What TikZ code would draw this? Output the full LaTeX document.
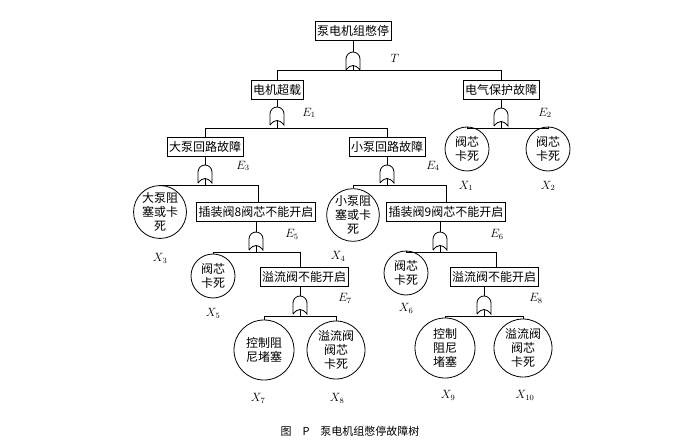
\documentclass[tikz,border=0pt]{standalone}
\usepackage{fontspec}
\newfontfamily\cjk{Noto Sans CJK SC}
\begin{document}
\begin{tikzpicture}[x=1pt,y=-1pt,line width=0.8pt,
  ev/.style={draw,fill=white,inner sep=2pt,minimum height=19pt,font=\cjk\fontsize{12}{13}\selectfont},
  bas/.style={draw,circle,align=center,inner sep=0pt,font=\cjk\fontsize{12}{14}\selectfont},
  lab/.style={font=\fontsize{12}{13}\selectfont}]
\useasboundingbox (0,0) rectangle (700,446);
\newcommand{\orgate}[3]{%
  \draw[fill=white] (#2-7,#3+18) -- (#2-7,#3+7) arc(180:360:7) -- (#2+7,#3+18) .. controls (#2+2,#3+12) and (#2-2,#3+12) .. (#2-7,#3+18);
  \coordinate (#1-in) at (#2,#3);
  \coordinate (#1-out) at (#2,#3+13);}
% events
\node[ev] (T) at (353,31) {泵电机组憋停};
\node[ev] (E1) at (277,90) {电机超载};
\node[ev] (E2) at (501,90) {电气保护故障};
\node[ev] (E3) at (205,147) {大泵回路故障};
\node[ev] (E4) at (387,147) {小泵回路故障};
\node[ev] (E5) at (256,212) {插装阀8阀芯不能开启};
\node[ev] (E6) at (446,212) {插装阀9阀芯不能开启};
\node[ev] (E7) at (304,277) {溢流阀不能开启};
\node[ev] (E8) at (494,277) {溢流阀不能开启};
% basic
\node[bas,minimum size=44pt] (X1) at (467,149) {阀芯\\卡死};
\node[bas,minimum size=44pt] (X2) at (548,149) {阀芯\\卡死};
\node[bas,minimum size=50pt] (X3) at (160,212) {大泵阻\\塞或卡\\死};
\node[bas,minimum size=50pt] (X4) at (353,215) {小泵阻\\塞或卡\\死};
\node[bas,minimum size=44pt] (X5) at (213,276) {阀芯\\卡死};
\node[bas,minimum size=44pt] (X6) at (406,273) {阀芯\\卡死};
\node[bas,minimum size=60pt] (X7) at (264,350) {控制阻\\尼堵塞};
\node[bas,minimum size=58pt] (X8) at (336,350) {溢流阀\\阀芯\\卡死};
\node[bas,minimum size=60pt] (X9) at (445,348) {控制\\阻尼\\堵塞};
\node[bas,minimum size=58pt] (X10) at (523,348) {溢流阀\\阀芯\\卡死};
% gates
\orgate{gT}{353}{52}
\orgate{g1}{277}{107}
\orgate{g2}{501}{108}
\orgate{g3}{205}{165}
\orgate{g4}{387}{165}
\orgate{g5}{256}{232}
\orgate{g6}{440}{232}
\orgate{g7}{300}{296}
\orgate{g8}{484}{296}
% connectors
\draw (T.south) -- (gT-in);
\draw (gT-out) -- ++(0,5) -| (E1.north);
\draw (gT-out) -- ++(0,5) -| (E2.north);
\draw (E1.south) -- (g1-in);
\draw (g1-out) -- ++(0,8) -| (E3.north);
\draw (g1-out) -- ++(0,8) -| (E4.north);
\draw (E2.south) -- (g2-in);
\draw (g2-out) -- ++(0,7) -| (X1.north);
\draw (g2-out) -- ++(0,7) -| (X2.north);
\draw (E3.south) -- (g3-in);
\draw (g3-out) -- ++(0,7) -| (X3.north);
\draw (g3-out) -- ++(0,7) -| (258,202.5);
\draw (E4.south) -- (g4-in);
\draw (g4-out) -- ++(0,7) -| (X4.north);
\draw (g4-out) -- ++(0,7) -| (446,202.5);
\draw (E5.south -| g5-in) -- (g5-in);
\draw (g5-out) -- ++(0,7) -| (X5.north);
\draw (g5-out) -- ++(0,7) -| (300,267.5);
\draw (E6.south -| g6-in) -- (g6-in);
\draw (g6-out) -- ++(0,7) -| (X6.north);
\draw (g6-out) -- ++(0,7) -| (496,267.5);
\draw (E7.south -| g7-in) -- (g7-in);
\draw (g7-out) -- ++(0,7) -| (X7.north);
\draw (g7-out) -- ++(0,7) -| (X8.north);
\draw (E8.south -| g8-in) -- (g8-in);
\draw (g8-out) -- ++(0,7) -| (X9.north);
\draw (g8-out) -- ++(0,7) -| (X10.north);
% labels
\node[lab] (lT) at (395,58) {$T$};
\node[lab] (l1) at (309,113) {$E_1$};
\node[lab] (l2) at (545,113) {$E_2$};
\node[lab] (l3) at (243,166) {$E_3$};
\node[lab] (l4) at (433,166) {$E_4$};
\node[lab] (l5) at (292,234) {$E_5$};
\node[lab] (l6) at (497,234) {$E_6$};
\node[lab] (l7) at (345,298) {$E_7$};
\node[lab] (l8) at (536,298) {$E_8$};
\node[lab] (lx1) at (466,186) {$X_1$};
\node[lab] (lx2) at (548,186) {$X_2$};
\node[lab] (lx3) at (160,258) {$X_3$};
\node[lab] (lx4) at (338,256) {$X_4$};
\node[lab] (lx5) at (213,313) {$X_5$};
\node[lab] (lx6) at (406,308) {$X_6$};
\node[lab] (lx7) at (258,398) {$X_7$};
\node[lab] (lx8) at (337,398) {$X_8$};
\node[lab] (lx9) at (448,395) {$X_9$};
\node[lab] (lx10) at (525,395) {$X_{10}$};
\node[font=\cjk\fontsize{11}{12}\selectfont] (cap) at (350,431) {图\quad P\quad 泵电机组憋停故障树};
\end{tikzpicture}
\end{document}
